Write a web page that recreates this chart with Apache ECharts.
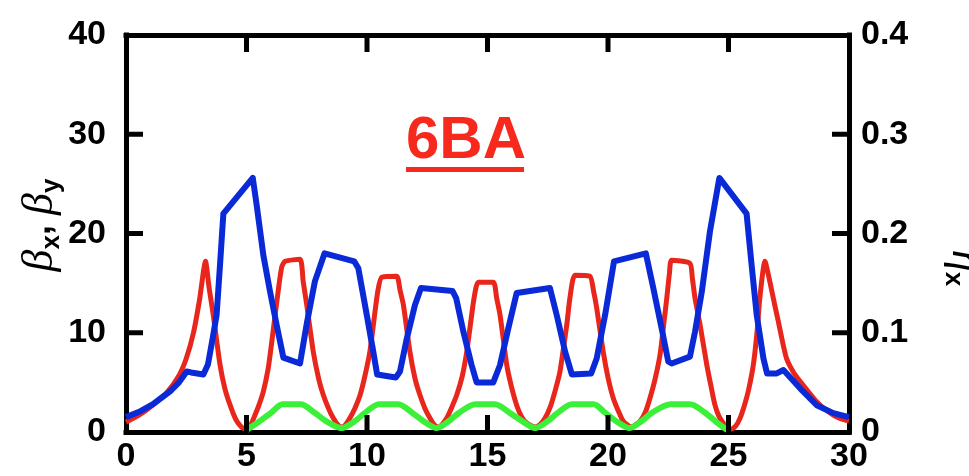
<!DOCTYPE html>
<html>
<head>
<meta charset="utf-8">
<script src="https://cdn.jsdelivr.net/npm/echarts@6/dist/echarts.min.js"></script>
<style>
html,body{margin:0;padding:0;background:#fff;}
#c{width:969px;height:476px;}
</style>
</head>
<body>
<div id="c"></div>
<script>
// x ticks
var xTicks = [0, 5, 10, 15, 20, 25, 30];
// beta_x (red)
var sX = [0,0.6,1.2,1.7,2.2,2.5,2.8,3.05,3.3,3.45,3.62,3.9,4.1,4.32,4.55,4.75,4.95,5.15,5.3,5.5,5.7,5.9,6.05,6.2,6.32,6.46,6.6,7.22,7.35,7.5,7.77,8.0,8.19,8.4,8.6,8.8,8.95,9.1,9.29,9.5,9.71,9.9,10.12,10.3,10.45,10.61,11.23,11.37,11.51,11.78,12.0,12.2,12.4,12.61,12.8,12.96,13.1,13.31,13.5,13.72,13.95,14.14,14.3,14.45,14.62,15.24,15.38,15.52,15.8,16.0,16.21,16.4,16.63,16.97,17.2,17.39,17.6,17.8,18.0,18.15,18.3,18.42,18.63,19.25,19.4,19.53,19.8,20.0,20.22,20.45,20.63,20.98,21.33,21.55,21.74,21.95,22.16,22.3,22.44,22.55,22.64,23.4,23.5,23.61,23.82,24.1,24.3,24.44,24.6,24.78,24.95,25.13,25.3,25.48,25.65,25.82,26.0,26.1,26.2,26.3,26.51,26.72,26.9,27.07,27.25,27.41,27.7,27.97,28.3,28.66,29.0,29.35,29.6,30];
var betaX = [1.0,1.8,2.9,4.0,5.7,7.4,10.0,13.3,17.2,14.5,11.8,6.8,4.4,2.7,1.3,0.6,0.3,0.6,1.4,2.6,4.1,6.4,9.1,12.0,14.3,16.6,17.2,17.4,15.2,12.8,8.1,5.3,3.7,2.4,1.4,0.7,0.5,0.7,1.4,2.4,3.7,5.5,8.1,11.5,14.2,15.6,15.7,14.3,12.8,8.1,5.3,3.7,2.4,1.4,0.7,0.5,0.7,1.4,2.4,3.7,5.6,8.1,11.0,13.6,15.1,15.1,13.5,11.8,6.75,4.5,2.7,1.6,0.9,0.5,0.8,1.4,2.5,4.1,6.0,8.4,11.0,13.5,15.8,15.7,14.2,12.5,8.1,5.5,3.4,2.0,1.1,0.5,1.1,2.0,3.4,5.3,7.8,10.6,13.5,16.0,17.3,17.0,15.5,13.5,10.8,6.75,4.3,2.7,1.6,0.9,0.4,0.3,0.6,1.4,2.6,4.1,6.3,8.1,10.5,13.5,17.2,15.1,13.0,11.1,9.0,7.4,6.0,5.1,4.1,3.05,2.3,1.7,1.4,1.1];
// beta_y (blue)
var sY = [0,0.6,1.12,1.5,1.83,2.2,2.52,2.7,3.21,3.4,3.6,3.76,3.9,4.04,5.26,5.42,5.7,5.98,6.25,6.53,7.22,7.5,7.84,8.24,9.47,9.64,9.99,10.26,10.42,11.2,11.37,11.65,11.99,12.24,13.55,13.7,14.0,14.34,14.55,15.24,15.52,15.86,16.21,17.59,17.87,18.22,18.5,19.3,19.53,19.88,20.25,21.57,21.88,22.23,22.5,22.64,23.4,23.61,23.89,24.23,24.62,25.75,25.96,26.17,26.45,26.6,27.0,27.28,27.97,28.66,29.35,30];
var betaY = [1.5,2.1,2.8,3.5,4.1,5.0,6.1,6.0,5.8,6.8,9.5,11.8,16.8,22.0,25.6,22.9,17.8,14.1,10.8,7.5,6.9,10.9,15.2,18.0,17.2,16.5,11.8,8.1,5.8,5.5,6.1,9.4,12.8,14.5,14.2,13.5,10.1,6.75,5.0,5.0,6.75,10.4,14.0,14.5,11.8,8.1,5.8,5.9,7.4,11.8,17.2,18.0,14.5,10.4,7.1,6.9,7.6,10.1,14.1,20.2,25.6,22.0,16.8,11.8,7.4,5.9,5.9,6.25,4.4,2.7,1.9,1.5];
// eta_x (green, right axis)
var sEta = [5.0,5.5,6.0,6.5,7.25,7.8,8.3,8.95,9.5,9.9,10.5,11.3,11.9,12.4,12.9,13.4,13.8,14.5,15.3,16.0,16.5,16.97,17.5,17.9,18.5,19.4,19.9,20.4,20.9,21.4,21.8,22.6,23.4,24.0,24.5,24.95];
var etaX = [0.002,0.010,0.019,0.028,0.028,0.020,0.011,0.004,0.011,0.019,0.028,0.028,0.019,0.010,0.004,0.011,0.019,0.028,0.028,0.018,0.010,0.004,0.011,0.019,0.028,0.028,0.019,0.010,0.004,0.011,0.019,0.028,0.028,0.020,0.010,0.002];
var leftTicks = [0, 10, 20, 30, 40];
var rightTicks = [0, 0.1, 0.2, 0.3, 0.4];

function zip(a, b) { return a.map(function (v, i) { return [v, b[i]]; }); }
function inner(a) { return a.slice(1, a.length - 1); }

var xMin = xTicks[0], xMax = xTicks[xTicks.length - 1];
var yMin = leftTicks[0], yMax = leftTicks[leftTicks.length - 1];
var rMin = rightTicks[0], rMax = rightTicks[rightTicks.length - 1];

var FONT = 'Liberation Sans';
var TL = 17; // tick length
function axisLine() { return { show: true, onZero: false, lineStyle: { color: '#000', width: 5, cap: 'square' } }; }
function lbl(m) { return { show: true, margin: m, fontSize: 34, fontWeight: 'bold', color: '#000', fontFamily: FONT }; }
function tickSeries(data, yIdx, size, offset) {
  return { type: 'scatter', xAxisIndex: 0, yAxisIndex: yIdx, data: data, symbol: 'rect', symbolSize: size,
    symbolOffset: offset, itemStyle: { color: '#000', opacity: 1 }, emphasis: { disabled: true },
    silent: true, clip: false, z: 5 };
}

var chart = echarts.init(document.getElementById('c'), null, { renderer: 'canvas' });
chart.setOption({
  animation: false,
  backgroundColor: '#fff',
  grid: { left: 126, right: 120, top: 35, bottom: 44, containLabel: false },
  xAxis: [
    { type: 'value', position: 'bottom', min: xMin, max: xMax, interval: 5,
      axisLine: axisLine(), axisTick: { show: false }, splitLine: { show: false }, axisLabel: lbl(8) },
    { type: 'value', position: 'top', min: xMin, max: xMax, interval: 5,
      axisLine: axisLine(), axisTick: { show: false }, splitLine: { show: false }, axisLabel: { show: false } }
  ],
  yAxis: [
    { type: 'value', position: 'left', min: yMin, max: yMax, interval: 10,
      axisLine: axisLine(), axisTick: { show: false }, splitLine: { show: false }, axisLabel: lbl(20) },
    { type: 'value', position: 'right', min: rMin, max: rMax, interval: 0.1,
      axisLine: axisLine(), axisTick: { show: false }, splitLine: { show: false },
      axisLabel: Object.assign(lbl(12), { formatter: function (v) { return v === 0 ? '0' : v.toFixed(1); } }) }
  ],
  graphic: [
    { type: 'text', x: 406, y: 141, z: 10,
      style: { text: '6BA', fill: '#f7281c', font: 'bold 60px "Liberation Sans"', align: 'left', verticalAlign: 'middle' } },
    { type: 'rect', z: 10, shape: { x: 406, y: 167, width: 118, height: 5 }, style: { fill: '#f7281c' } },
    { type: 'text', x: 40, y: 225, rotation: Math.PI / 2, z: 10,
      style: { text: '{b|β}{s|x}{c|, }{b|β}{s|y}', align: 'center', verticalAlign: 'middle',
        rich: {
          b: { fontFamily: 'Liberation Serif', fontStyle: 'italic', fontSize: 44, lineHeight: 50, verticalAlign: 'middle', fill: '#000' },
          s: { fontFamily: FONT, fontWeight: 'bold', fontSize: 26, verticalAlign: 'bottom', fill: '#000' },
          c: { fontFamily: FONT, fontWeight: 'bold', fontSize: 36, verticalAlign: 'middle', fill: '#000' }
        } } },
    { type: 'text', x: 965, y: 268, rotation: -Math.PI / 2, z: 10,
      style: { text: '{b|η}{s|x}', align: 'center', verticalAlign: 'middle',
        rich: {
          b: { fontFamily: 'Liberation Serif', fontStyle: 'italic', fontSize: 44, lineHeight: 50, verticalAlign: 'middle', fill: '#000' },
          s: { fontFamily: FONT, fontWeight: 'bold', fontSize: 26, verticalAlign: 'bottom', fill: '#000' }
        } } }
  ],
  series: [
    { name: 'betaX', type: 'line', xAxisIndex: 0, yAxisIndex: 0, data: zip(sX, betaX), showSymbol: false, smooth: 0.2,
      lineStyle: { color: '#e8261c', width: 5, join: 'round' } },
    { name: 'betaY', type: 'line', xAxisIndex: 0, yAxisIndex: 0, data: zip(sY, betaY), showSymbol: false, smooth: false,
      lineStyle: { color: '#0a2ad8', width: 6, join: 'round' } },
    { name: 'etaX', type: 'line', xAxisIndex: 0, yAxisIndex: 1, data: zip(sEta, etaX), showSymbol: false, smooth: 0.3,
      lineStyle: { color: '#3cf03a', width: 6, join: 'round' } },
    // inward axis ticks, placed through the axes' own scales
    tickSeries(inner(xTicks).map(function (v) { return [v, yMin]; }), 0, [5, TL], [0, -TL / 2]),
    tickSeries(inner(xTicks).map(function (v) { return [v, yMax]; }), 0, [5, TL], [0, TL / 2]),
    tickSeries(inner(leftTicks).map(function (v) { return [xMin, v]; }), 0, [TL, 5], [TL / 2, 0]),
    tickSeries(inner(rightTicks).map(function (v) { return [xMax, v]; }), 1, [TL, 5], [-TL / 2, 0])
  ]
});
</script>
</body>
</html>
